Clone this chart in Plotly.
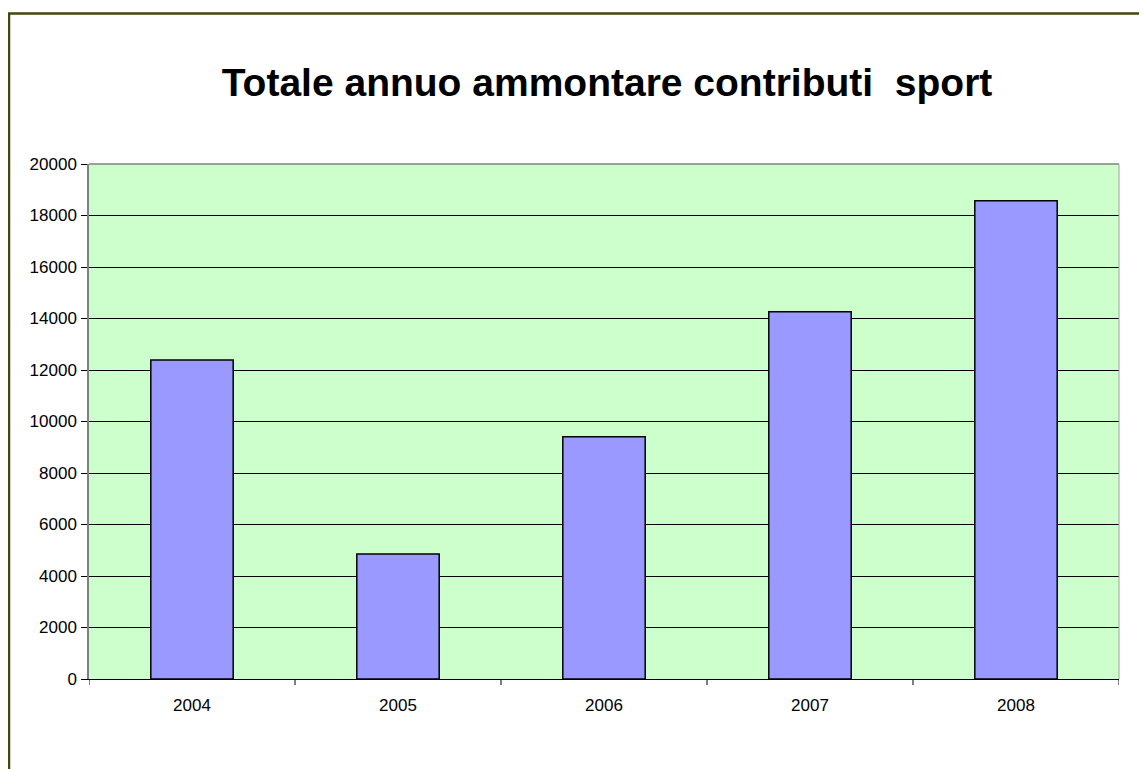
import plotly.graph_objects as go

years = ["2004", "2005", "2006", "2007", "2008"]
values = [12390, 4850, 9410, 14260, 18570]
y_ticks = [0, 2000, 4000, 6000, 8000, 10000, 12000, 14000, 16000, 18000, 20000]
title_text = "Totale annuo ammontare contributi  sport"

# page is offset by the 8px body margin
OFF = 8
W, H = 1147, 769
L, R, T, B = 89 - OFF, 1119 - OFF, 164 - OFF, 679 - OFF

fig = go.Figure(go.Bar(
    x=years, y=values,
    marker=dict(color="#9999FF", line=dict(color="#000000", width=1.5)),
    width=0.4,
))

fig.update_layout(
    width=W, height=H,
    margin=dict(l=L, r=W - R, t=T, b=H - B, pad=0),
    paper_bgcolor="white",
    plot_bgcolor="#CCFFCC",
    showlegend=False,
    font=dict(family="Liberation Sans, Arial, sans-serif", size=17, color="black"),
    title=dict(text="<b>" + title_text + "</b>", x=(607 - OFF) / W, xanchor="center",
               y=1 - (82 - OFF) / H, yanchor="middle",
               font=dict(size=39, family="Liberation Sans, Arial, sans-serif", color="black")),
    xaxis=dict(
        type="category", range=[-0.5, 4.5],
        showgrid=False, showline=True, linecolor="#000000", linewidth=1,
        ticks="", tickfont=dict(size=17), ticklabelstandoff=11,
    ),
    yaxis=dict(
        range=[0, 20000], tickvals=y_ticks, ticktext=[str(v) for v in y_ticks],
        showgrid=True, gridcolor="#000000", gridwidth=1,
        showline=True, linecolor="#808080", linewidth=1.5,
        ticks="outside", ticklen=6, tickcolor="#000000",
        tickfont=dict(size=17), zeroline=False, ticklabelstandoff=1,
    ),
)

# category boundary tick marks on the x axis
for i in range(6):
    fig.add_shape(type="line", xref="x", yref="paper",
                  x0=i - 0.5, x1=i - 0.5, y0=0, y1=-6 / (B - T),
                  line=dict(color="#000000", width=1))

# plot area border (top and right)
fig.add_shape(type="line", xref="paper", yref="paper", x0=0, x1=1, y0=1, y1=1,
              line=dict(color="#808080", width=1.5))
fig.add_shape(type="line", xref="paper", yref="paper", x0=1, x1=1, y0=0, y1=1,
              line=dict(color="#A0A0A0", width=1))

# outer chart frame
pw, ph = R - L, B - T
fig.add_shape(type="rect", xref="paper", yref="paper",
              x0=(8 - OFF - L + 1) / pw, x1=(W + 20 - L) / pw,
              y0=(B - (H + 20)) / ph, y1=(B - (13 - OFF) - 0.5) / ph,
              line=dict(color="#45450f", width=2.5), layer="below")

fig.write_html("out.html")
